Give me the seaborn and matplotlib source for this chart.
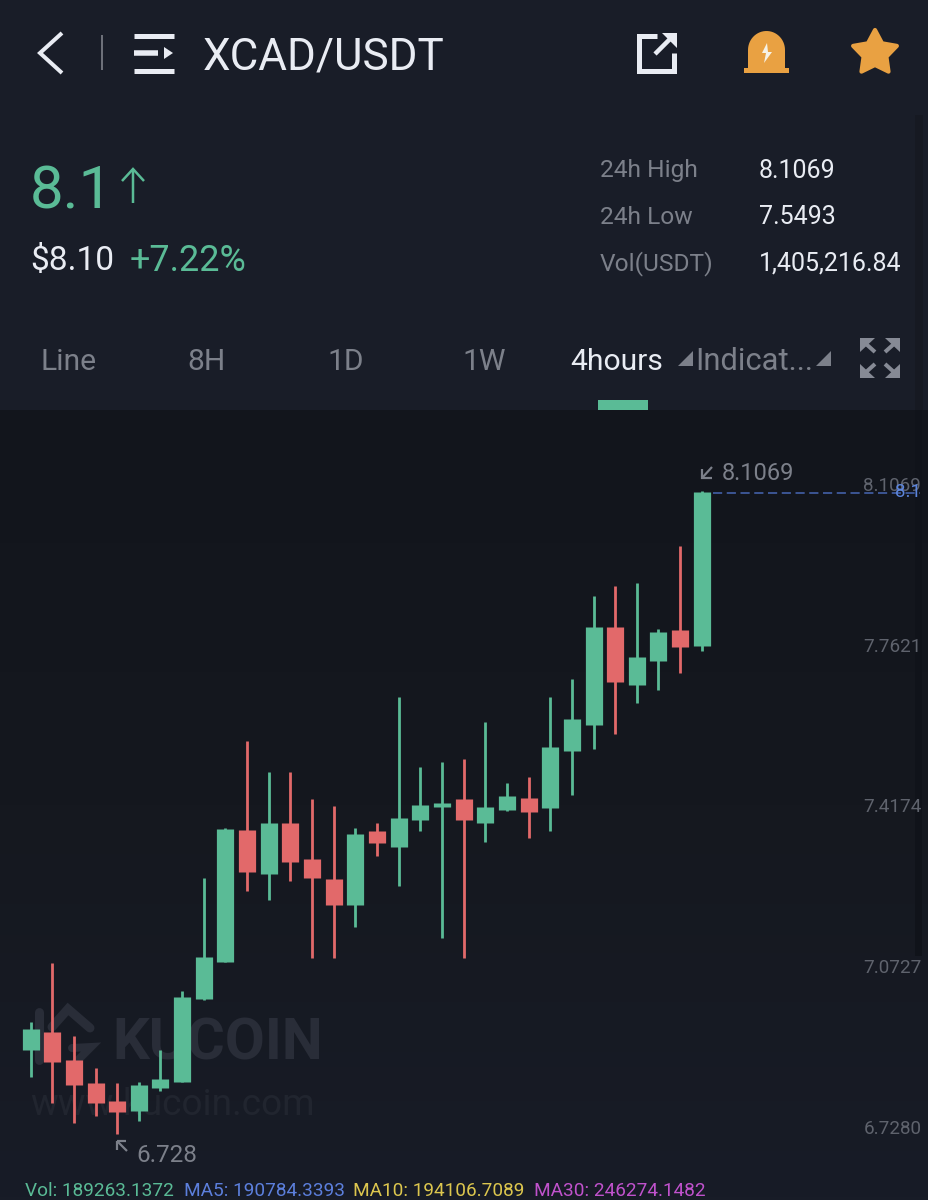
import matplotlib
matplotlib.use('Agg')
import matplotlib.pyplot as plt
import numpy as np
import pandas as pd
import seaborn as sns
from matplotlib.colors import LinearSegmentedColormap
from matplotlib.patches import Polygon, Rectangle

# candles
opens = [6.908, 6.947, 6.886, 6.837, 6.799, 6.777, 6.826, 6.839, 7.017, 7.097, 7.380, 7.285, 7.395, 7.318, 7.275, 7.219,
         7.378, 7.343, 7.401, 7.429, 7.446, 7.395, 7.423, 7.448, 7.427, 7.549, 7.605, 7.815, 7.691, 7.742, 7.809, 7.775]
closes = [6.953, 6.882, 6.833, 6.794, 6.775, 6.833, 6.846, 7.022, 7.107, 7.382, 7.290, 7.395, 7.311, 7.277, 7.219, 7.371,
          7.352, 7.406, 7.433, 7.438, 7.401, 7.429, 7.453, 7.418, 7.558, 7.618, 7.815, 7.697, 7.751, 7.805, 7.772, 8.104]
highs = [6.968, 7.095, 6.938, 6.869, 6.837, 6.839, 6.908, 7.034, 7.277, 7.384, 7.571, 7.504, 7.504, 7.446, 7.431, 7.384,
         7.395, 7.665, 7.515, 7.526, 7.532, 7.612, 7.481, 7.494, 7.665, 7.704, 7.882, 7.903, 7.910, 7.811, 7.989, 8.1069]
lows = [6.850, 6.794, 6.751, 6.766, 6.728, 6.756, 6.820, 6.839, 7.015, 7.097, 7.249, 7.230, 7.270, 7.105, 7.105, 7.172,
        7.324, 7.260, 7.378, 7.148, 7.105, 7.354, 7.421, 7.363, 7.378, 7.455, 7.554, 7.586, 7.652, 7.680, 7.717, 7.764]
y_ticks = [8.1069, 7.7621, 7.4174, 7.0727, 6.7280]
y_tick_labels = ['8.1069', '7.7621', '7.4174', '7.0727', '6.7280']
last_price = 8.103
tabs = ['Line', '8H', '1D', '1W']
stats = [('24h High', '8.1069'), ('24h Low', '7.5493'), ('Vol(USDT)', '1,405,216.84')]
volume_labels = ['Vol: 189263.1372', 'MA5: 190784.3393', 'MA10: 194106.7089', 'MA30: 246274.1482']

HEADER = '#191d28'
GREEN = '#5abb96'
RED = '#e2696a'
ORANGE = '#e9a142'
WHITE = '#e9ecf3'
GREY = '#7c808a'
AXIS_GREY = '#5f636d'

sns.set_theme(style='dark')
plt.rcParams['font.family'] = ['Roboto', 'DejaVu Sans']

W, H = 929, 1200
fig = plt.figure(figsize=(W / 100, H / 100), dpi=100, facecolor=HEADER)

# full figure layer in pixels: backgrounds, icons, header text, watermark
ui = fig.add_axes([0, 0, 1, 1], zorder=0)
ui.add_patch(Rectangle((0, 0), W, 410, color=HEADER, lw=0))
panel_cmap = LinearSegmentedColormap.from_list('panel', ['#12151c', '#15181f', '#181c27'])
ui.imshow(np.linspace(0, 1, 256)[:, None], cmap=panel_cmap, extent=(0, W, 1200, 410), aspect='auto', zorder=0.5)
ui.set_xlim(0, W)
ui.set_ylim(H, 0)
ui.axis('off')
ui.add_patch(Rectangle((915, 115), 8, 295, color='#161922', lw=0))
ui.add_patch(Rectangle((915, 410), 7, 546, color='#10131a', lw=0))


def px_text(x, y, s, size, color, ha='left', va='center', **kw):
    ui.text(x, y, s, fontsize=size * 0.72, color=color, ha=ha, va=va, **kw)


def px_line(xs, ys, color, width, **kw):
    ui.plot(xs, ys, color=color, lw=width * 0.72, solid_capstyle=kw.pop('cap', 'butt'), solid_joinstyle='miter', **kw)


# top bar
px_line([62, 40, 62], [33, 53, 73], WHITE, 4)
px_line([102.5, 102.5], [35, 70], '#6d7079', 2)
px_line([134, 174], [35.5, 35.5], WHITE, 5)
px_line([134, 174], [70.5, 70.5], WHITE, 5)
px_line([134, 158], [53, 53], WHITE, 5.5)
ui.add_patch(Polygon([[164, 47], [173, 53], [164, 59]], color=WHITE, lw=0))
px_text(203, 58, 'XCAD/USDT', 44, WHITE)

# share, bell, star
px_line([657, 639.5, 639.5, 674.5, 674.5], [35.5, 35.5, 70.5, 70.5, 53], WHITE, 5)
px_line([655, 672], [54, 37], WHITE, 4.5)
ui.add_patch(Polygon([[662, 33], [677, 33], [677, 48]], color=WHITE, lw=0))
bell_t = np.linspace(np.pi, 0, 30)
bell_x = np.r_[748, 766.5 + 18.5 * np.cos(bell_t), 785]
bell_y = np.r_[68, 50 - 19 * np.sin(bell_t), 68]
ui.add_patch(Polygon(np.c_[bell_x, bell_y], color=ORANGE, lw=0))
ui.add_patch(Rectangle((744, 68), 45, 5, color=ORANGE, lw=0))
ui.add_patch(Polygon([[767, 43], [762, 53], [766, 53], [764, 63], [772, 52], [768, 52]], color='#f6f2e6', lw=0))
star_a = np.deg2rad(np.arange(0, 360, 36) - 90)
star_r = np.where(np.arange(10) % 2 == 0, 23, 12)
ui.add_patch(Polygon(np.c_[875 + star_r * np.cos(star_a), 53 + star_r * np.sin(star_a)], fc=ORANGE, ec=ORANGE, lw=3, joinstyle='round'))

# price block
px_text(30, 192, '8.1', 60, GREEN)
px_line([133, 133], [169, 203], GREEN, 2.5)
px_line([122, 133, 144], [181, 169, 181], GREEN, 2.5)
px_text(30, 261, '$8.10', 33.5, WHITE)
px_text(130, 261, '+7.22%', 36, GREEN)
for (name, value), y in zip(stats, [171, 217, 264]):
    px_text(600, y, name, 24.5, GREY)
    px_text(759, y, value, 25, WHITE)

# tabs
for label, x in zip(tabs, [69, 207, 345.5, 484.5]):
    px_text(x, 362, label, 30, GREY, ha='center')
px_text(570, 362, '4hours', 30, WHITE)
px_text(695, 362, 'Indicat...', 31, GREY)
ui.add_patch(Polygon([[678, 366], [693, 366], [693, 351]], color=GREY, lw=0))
ui.add_patch(Polygon([[816, 366], [831, 366], [831, 351]], color=GREY, lw=0))
ui.add_patch(Rectangle((598, 400), 50, 10, color=GREEN, lw=0))
for sx, sy, cx, cy in [(1, 1, 860, 338), (-1, 1, 900, 338), (1, -1, 860, 378), (-1, -1, 900, 378)]:
    ui.add_patch(Polygon([[cx, cy], [cx + sx * 15, cy], [cx, cy + sy * 14]], color='#868a95', lw=0))
    px_line([cx + sx * 5, cx + sx * 15], [cy + sy * 5, cy + sy * 14], '#868a95', 4)

# watermark under the candles
mark = '#292d38'
px_line([39, 39], [1012, 1060], mark, 9, cap='round')
px_line([52, 68, 90], [1027, 1009, 1028], mark, 9, cap='round')
px_line([72, 91, 74], [1048, 1047, 1064], mark, 8, cap='round')
px_text(112, 1044, 'KUCOIN', 58, mark, fontweight='bold')
px_text(30, 1105, 'www.kucoin.com', 37, '#21252f')

# legend strip
for label, x, color in zip(volume_labels, [25, 184, 353, 534], [GREEN, '#5c7fdc', '#dcc64e', '#c052cc']):
    px_text(x, 1191, label, 19, color)

# candles, same pixel scale as the reference: 21.65px per bar, 466.2px per unit of price
ax = fig.add_axes([0, 25 / H, 1, 765 / H], zorder=1)
ax.patch.set_alpha(0)
candles = pd.DataFrame({'candle': np.arange(len(opens)), 'open': opens, 'close': closes, 'high': highs, 'low': lows})
candles['side'] = np.where(candles['close'] >= candles['open'], 'up', 'down')
colors = {'up': GREEN, 'down': RED}
wicks = candles.melt(id_vars=['candle', 'side'], value_vars=['low', 'high'], value_name='price')
bodies = candles.melt(id_vars=['candle', 'side'], value_vars=['open', 'close'], value_name='price')
sns.lineplot(data=wicks, x='candle', y='price', hue='side', units='candle', estimator=None, sort=False,
             palette=colors, linewidth=2.0, legend=False, solid_capstyle='butt', ax=ax)
sns.lineplot(data=bodies, x='candle', y='price', hue='side', units='candle', estimator=None, sort=False,
             palette=colors, linewidth=12.4, legend=False, solid_capstyle='butt', ax=ax)
ax.set_xlim(-30.6 / 21.65, (W - 30.6) / 21.65)
ax.set_ylim(8.1069 - (1175 - 491) / 466.2, 8.1069 + 81 / 466.2)
ax.set_xlabel('')
ax.set_ylabel('')
ax.set_xticks([])
ax.yaxis.tick_right()
ax.set_yticks(y_ticks, y_tick_labels)
ax.tick_params(axis='y', length=0, pad=-5.5, labelsize=13.6, labelcolor=AXIS_GREY)
for label in ax.get_yticklabels():
    label.set_ha('right')
    label.set_va('baseline')
ax.grid(False)
sns.despine(ax=ax, left=True, right=True, top=True, bottom=True)

# current price line and its blue label
ax.plot([31.5, 41.1], [last_price, last_price], color='#4767b4', lw=1.1, dashes=(6, 3))
ax.text(41.13, last_price + 0.002, '8.1', color='#5c85dc', fontsize=13.6, ha='right', va='center')

# high and low markers
ax.annotate(y_tick_labels[0], xy=(31, max(highs)), xytext=(14.5, 8), textcoords='offset points',
            color=GREY, fontsize=17, va='baseline')
ax.annotate('6.728', xy=(4, min(lows)), xytext=(14, -20), textcoords='offset points',
            color=GREY, fontsize=17.5, va='baseline')
px_line([712, 702], [467, 478], GREY, 2.2)
px_line([702, 702, 712], [469, 478, 478], GREY, 2.2)
px_line([117, 127], [1141, 1151], GREY, 2.2)
px_line([117, 117], [1141, 1150], GREY, 2.2)
px_line([117, 126], [1141, 1141], GREY, 2.2)

fig.savefig('out.png', dpi=100, facecolor=HEADER)
plt.close(fig)
